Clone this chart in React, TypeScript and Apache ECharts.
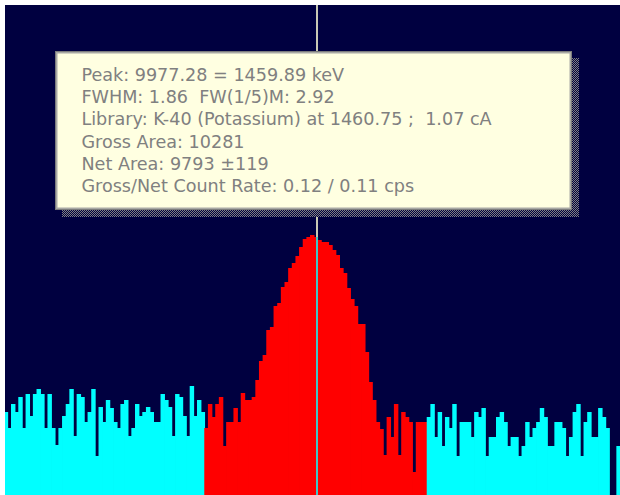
import React, { useEffect, useRef } from "react";
import * as echarts from "echarts";

// Counts per display bin, left background, peak region, right background
const LEFT_BACKGROUND = [
  83, 67, 91, 83, 98, 67, 101, 79, 101, 106, 101, 67, 101, 67, 50, 67, 79, 91, 106, 59,
  101, 98, 73, 83, 106, 39, 88, 73, 95, 87, 73, 67, 91, 95, 59, 67, 91, 79, 83, 88,
  83, 73, 73, 101, 95, 88, 59, 101, 98, 79, 59, 109, 79, 95, 83,
];
const PEAK_REGION = [
  67, 91, 78, 91, 98, 49, 73, 73, 87, 73, 102, 95, 95, 98, 115, 134, 140, 165, 168, 189,
  192, 208, 213, 227, 232, 239, 248, 256, 258, 260, 258, 255, 253, 253, 250, 245, 240, 227, 222, 207,
  196, 189, 171, 171, 143, 113, 95, 73, 66, 40, 78, 58, 91, 40, 83, 78, 73, 23, 73, 73,
  73,
];
const RIGHT_BACKGROUND = [
  78, 91, 58, 83, 49, 78, 67, 91, 39, 73, 73, 73, 58, 83, 78, 87, 39, 58, 58, 78,
  83, 73, 49, 58, 58, 39, 49, 73, 58, 67, 73, 87, 78, 49, 49, 73, 73, 67, 39, 58,
  83, 91, 39, 73, 83, 58, 58, 87, 78, 67, 0, 0, 49,
];

const COUNTS = [...LEFT_BACKGROUND, ...PEAK_REGION, ...RIGHT_BACKGROUND];
const PEAK_START = LEFT_BACKGROUND.length;
const PEAK_END = PEAK_START + PEAK_REGION.length;

const FIRST_CHANNEL = 9934.35;
const CHANNELS_PER_BAR = 0.5;
const PEAK_CHANNEL = 9977.28;
const Y_MAX = 490;

const INFO_LINES = [
  "Peak: 9977.28 = 1459.89 keV",
  "FWHM: 1.86  FW(1/5)M: 2.92",
  "Library: K-40 (Potassium) at 1460.75 ;  1.07 cA",
  "Gross Area: 10281",
  "Net Area: 9793 \u00b1119",
  "Gross/Net Count Rate: 0.12 / 0.11 cps",
];

const NAVY = "#000040";
const CYAN = "#00ffff";
const RED = "#ff0000";

function ditherPattern(): HTMLCanvasElement {
  const c = document.createElement("canvas");
  c.width = 2;
  c.height = 2;
  const ctx = c.getContext("2d")!;
  ctx.fillStyle = NAVY;
  ctx.fillRect(0, 0, 2, 2);
  ctx.fillStyle = "#808080";
  ctx.fillRect(0, 0, 1, 1);
  ctx.fillRect(1, 1, 1, 1);
  return c;
}

export default function App() {
  const ref = useRef<HTMLDivElement>(null);

  useEffect(() => {
    if (!ref.current) return;
    const chart = echarts.init(ref.current, undefined, { renderer: "svg" });

    const binColor = (idx: number) => (idx >= PEAK_START && idx < PEAK_END ? RED : CYAN);
    const cursor = (PEAK_CHANNEL - FIRST_CHANNEL) / CHANNELS_PER_BAR;
    const cursorTop = COUNTS[Math.floor(cursor)];

    // each bin is a rectangle from its lower to its upper edge on the bin axis;
    // a small overlap into the next bin (drawn after it) keeps neighbours seamless
    const renderBin = (_params: any, api: any) => {
      const i = api.value(0);
      const v = api.value(1);
      const topLeft = api.coord([i, v]);
      const bottomRight = api.coord([i + 1, 0]);
      return {
        type: "rect",
        shape: {
          x: topLeft[0],
          y: topLeft[1],
          width: bottomRight[0] - topLeft[0] + 0.8,
          height: bottomRight[1] - topLeft[1],
        },
        style: { fill: binColor(i) },
      };
    };

    chart.setOption({
      animation: false,
      backgroundColor: "#ffffff",
      grid: {
        left: 3.7,
        right: -2.2,
        top: 5,
        bottom: 0,
        show: true,
        backgroundColor: NAVY,
        borderWidth: 0,
        containLabel: false,
      },
      xAxis: {
        type: "value",
        min: 0,
        max: COUNTS.length,
        show: false,
      },
      yAxis: {
        type: "value",
        min: 0,
        max: Y_MAX,
        show: false,
        splitLine: { show: false },
      },
      series: [
        {
          type: "custom",
          data: COUNTS.map((v, i) => [i, v]),
          renderItem: renderBin,
          silent: true,
          clip: true,
        },
        {
          type: "line",
          data: [[cursor, 0]],
          symbol: "none",
          lineStyle: { opacity: 0 },
          silent: true,
          markLine: {
            silent: true,
            symbol: ["none", "none"],
            label: { show: false },
            lineStyle: { type: "solid", width: 2 },
            data: [
              [
                { coord: [cursor, 0], lineStyle: { color: "#40c8c8", width: 2, type: "solid" } },
                { coord: [cursor, cursorTop], lineStyle: { color: "#40c8c8", width: 2, type: "solid" } },
              ],
              [
                { coord: [cursor, cursorTop], lineStyle: { color: "#c8c8b4", width: 2, type: "solid" } },
                { coord: [cursor, Y_MAX], lineStyle: { color: "#c8c8b4", width: 2, type: "solid" } },
              ],
            ],
          },
        },
      ],
      graphic: [
        { type: "rect", z: 100, shape: { x: 0, y: 0, width: 5, height: 495 }, style: { fill: "#ffffff" } },
        { type: "rect", z: 100, shape: { x: 0, y: 0, width: 620, height: 5 }, style: { fill: "#ffffff" } },
        {
          type: "rect",
          z: 101,
          shape: { x: 62, y: 58, width: 517, height: 159 },
          style: { fill: { image: ditherPattern(), repeat: "repeat" } as any },
        },
        { type: "rect", z: 102, shape: { x: 55, y: 51, width: 517, height: 159 }, style: { fill: "#7c7c7c" } },
        { type: "rect", z: 103, shape: { x: 56, y: 52, width: 515, height: 157 }, style: { fill: "#a8a8a4" } },
        { type: "rect", z: 104, shape: { x: 57.5, y: 53.5, width: 512, height: 154 }, style: { fill: "#ffffe1" } },
        {
          type: "text",
          z: 105,
          x: 81.4,
          y: 63.5,
          style: {
            text: INFO_LINES.join("\n"),
            fill: "#808080",
            fontFamily: "DejaVu Sans",
            fontSize: 17.6,
            lineHeight: 22.35,
            verticalAlign: "top",
            align: "left",
          },
        },
      ],
    });

    return () => chart.dispose();
  }, []);

  return (
    <div
      ref={ref}
      style={{ position: "absolute", left: 0, top: 0, width: 620, height: 495 }}
    />
  );
}
